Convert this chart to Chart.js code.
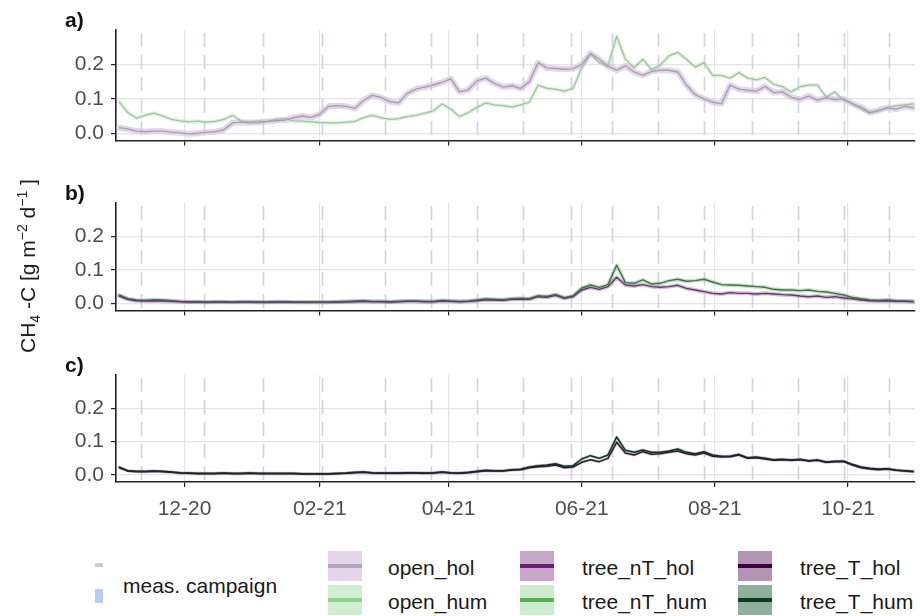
<!DOCTYPE html>
<html>
<head>
<meta charset="utf-8">
<script src="https://cdn.jsdelivr.net/npm/chart.js@4.4.1/dist/chart.umd.min.js"></script>
<style>
  html, body { margin: 0; padding: 0; background: #ffffff; }
  body { width: 920px; height: 616px; overflow: hidden; position: relative;
         font-family: "Liberation Sans", Arial, Helvetica, sans-serif; }
  canvas { position: absolute; left: 0; }
  #ytitle { position: absolute; left: 28px; top: 266px; transform: translate(-50%, -50%) rotate(-90deg);
            white-space: nowrap; font-size: 21px; color: #1a1a1a; }
  #ytitle sub, #ytitle sup { font-size: 14px; line-height: 0; }
  .lg-text { position: absolute; font-size: 21px; color: #1a1a1a; line-height: 1;
             transform: translateY(-50%); white-space: nowrap; }
  .lg-key { position: absolute; width: 34px; height: 30px; }
  .lg-key i { position: absolute; left: 0; right: 0; top: 13px; height: 4px; }
  .lg-mark { position: absolute; width: 8px; }
</style>
</head>
<body>
<canvas id="panelA" width="920" height="160" style="top:0px"></canvas>
<canvas id="panelB" width="920" height="170" style="top:160px"></canvas>
<canvas id="panelC" width="920" height="200" style="top:330px"></canvas>
<div id="ytitle">CH<sub>4</sub> -C [g m<sup>&minus;2</sup> d<sup>&minus;1</sup> ]</div>
<div id="legend"></div>

<script>
// Daily CH4-C flux series, one value every STEP_DAYS days from START_DATE
const START_DATE = '2020-11-01';
const STEP_DAYS = 4;

// a) open plots
const open_hol = [0.016,0.012,0.006,0.004,0.006,0.006,0.003,0.001,-0.002,0.000,
  0.003,0.004,0.010,0.030,0.032,0.030,0.031,0.034,0.036,0.038,
  0.045,0.050,0.046,0.055,0.078,0.080,0.078,0.072,0.095,0.110,
  0.104,0.092,0.088,0.115,0.128,0.134,0.140,0.148,0.158,0.120,
  0.126,0.152,0.160,0.145,0.134,0.138,0.130,0.150,0.205,0.190,
  0.188,0.186,0.187,0.200,0.232,0.215,0.195,0.183,0.196,0.178,
  0.168,0.180,0.183,0.183,0.178,0.140,0.112,0.100,0.090,0.086,
  0.140,0.128,0.125,0.122,0.136,0.118,0.120,0.104,0.098,0.108,
  0.096,0.103,0.098,0.100,0.086,0.076,0.060,0.066,0.074,0.070,
  0.078,0.074];
const open_hum = [0.092,0.060,0.044,0.052,0.058,0.050,0.040,0.036,0.033,0.035,
  0.032,0.034,0.040,0.052,0.035,0.033,0.036,0.034,0.040,0.042,
  0.036,0.035,0.033,0.031,0.030,0.030,0.032,0.034,0.045,0.052,
  0.045,0.040,0.042,0.048,0.052,0.058,0.065,0.085,0.070,0.048,
  0.060,0.075,0.088,0.082,0.080,0.076,0.082,0.090,0.140,0.130,
  0.128,0.122,0.130,0.190,0.230,0.205,0.195,0.282,0.215,0.190,
  0.215,0.185,0.198,0.225,0.235,0.215,0.192,0.205,0.168,0.168,
  0.160,0.176,0.160,0.155,0.162,0.142,0.135,0.120,0.135,0.140,
  0.140,0.105,0.120,0.095,0.085,0.070,0.058,0.065,0.074,0.080,
  0.082,0.086];

// b) tree plots, not trenched
const tree_nT_hol = [0.022,0.012,0.008,0.007,0.008,0.007,0.006,0.005,0.004,0.004,
  0.003,0.004,0.004,0.003,0.004,0.004,0.003,0.003,0.004,0.004,
  0.003,0.003,0.003,0.003,0.003,0.004,0.004,0.005,0.006,0.005,
  0.005,0.004,0.005,0.006,0.006,0.005,0.005,0.007,0.006,0.005,
  0.006,0.008,0.011,0.010,0.009,0.012,0.013,0.012,0.020,0.018,
  0.024,0.015,0.020,0.040,0.048,0.042,0.050,0.078,0.055,0.052,
  0.056,0.050,0.048,0.050,0.054,0.045,0.040,0.035,0.030,0.028,
  0.032,0.030,0.030,0.028,0.030,0.028,0.026,0.025,0.022,0.020,
  0.022,0.018,0.020,0.016,0.014,0.010,0.008,0.007,0.008,0.006,
  0.006,0.005];
const tree_nT_hum = [0.025,0.014,0.010,0.009,0.011,0.010,0.008,0.006,0.005,0.005,
  0.004,0.005,0.005,0.004,0.005,0.005,0.004,0.004,0.005,0.005,
  0.004,0.004,0.004,0.004,0.004,0.005,0.006,0.007,0.008,0.006,
  0.006,0.005,0.006,0.007,0.007,0.006,0.006,0.009,0.007,0.006,
  0.007,0.010,0.013,0.012,0.011,0.014,0.015,0.014,0.023,0.021,
  0.027,0.017,0.022,0.046,0.055,0.048,0.056,0.114,0.062,0.060,
  0.070,0.058,0.060,0.068,0.072,0.066,0.068,0.072,0.064,0.056,
  0.055,0.054,0.052,0.050,0.048,0.042,0.040,0.040,0.038,0.040,
  0.036,0.034,0.030,0.025,0.018,0.014,0.010,0.009,0.010,0.008,
  0.007,0.006];

// c) tree plots, trenched
const tree_T_hol = [0.024,0.012,0.010,0.010,0.011,0.010,0.008,0.006,0.005,0.004,
  0.004,0.004,0.005,0.004,0.004,0.005,0.004,0.004,0.004,0.004,
  0.004,0.003,0.003,0.003,0.003,0.004,0.005,0.007,0.008,0.006,
  0.005,0.005,0.005,0.006,0.006,0.005,0.006,0.008,0.006,0.005,
  0.007,0.010,0.013,0.012,0.012,0.015,0.016,0.022,0.025,0.026,
  0.030,0.022,0.024,0.038,0.046,0.040,0.050,0.098,0.066,0.060,
  0.070,0.062,0.064,0.068,0.072,0.064,0.060,0.066,0.056,0.054,
  0.055,0.060,0.050,0.052,0.048,0.044,0.046,0.044,0.046,0.042,
  0.044,0.038,0.040,0.040,0.030,0.022,0.018,0.016,0.018,0.014,
  0.012,0.010];
const tree_T_hum = [0.022,0.013,0.011,0.011,0.012,0.011,0.009,0.007,0.006,0.005,
  0.005,0.005,0.006,0.005,0.005,0.006,0.005,0.005,0.005,0.005,
  0.005,0.004,0.004,0.004,0.004,0.005,0.006,0.008,0.009,0.007,
  0.006,0.006,0.006,0.007,0.007,0.006,0.007,0.009,0.007,0.006,
  0.008,0.011,0.014,0.013,0.013,0.016,0.017,0.024,0.028,0.030,
  0.034,0.026,0.028,0.048,0.058,0.050,0.060,0.114,0.074,0.068,
  0.075,0.068,0.068,0.072,0.078,0.068,0.064,0.070,0.060,0.056,
  0.056,0.062,0.052,0.054,0.050,0.046,0.047,0.045,0.047,0.043,
  0.045,0.039,0.041,0.042,0.032,0.024,0.020,0.018,0.019,0.015,
  0.013,0.011];

// Measurement campaign dates
const campaignDates = ['2020-11-11','2020-12-10','2021-01-06','2021-02-02','2021-03-03','2021-03-24',
  '2021-04-14','2021-05-05','2021-05-27','2021-06-15','2021-07-06','2021-07-27',
  '2021-08-18','2021-09-08','2021-09-29','2021-10-20'];

// Axis ticks
const tickDates  = ['2020-12-01','2021-02-01','2021-04-01','2021-06-01','2021-08-01','2021-10-01'];
const tickLabels = ['12-20','02-21','04-21','06-21','08-21','10-21'];
const yTicks = [0, 0.1, 0.2];

const FONT = '"Liberation Sans", Arial, Helvetica, sans-serif';
const FONT_SIZE = 21;
const DAY = 86400000;
const t0 = Date.parse(START_DATE + 'T00:00:00Z');
const dayOf = s => Math.round((Date.parse(s + 'T00:00:00Z') - t0) / DAY);
const tickDays = tickDates.map(dayOf);
const campaignDays = campaignDates.map(dayOf);
const X_MIN = -1.4, X_MAX = 364.7;
const Y_MIN = -0.021, Y_MAX = 0.30;

const toPoints = vals => vals.map((v, i) => ({ x: i * STEP_DAYS, y: v }));

// Dashed vertical lines marking the measurement campaigns
const campaignPlugin = {
  id: 'campaigns',
  beforeDatasetsDraw(chart) {
    const { ctx, chartArea: a, scales: { x } } = chart;
    ctx.save();
    ctx.beginPath();
    ctx.rect(a.left, a.top, a.right - a.left, a.bottom - a.top);
    ctx.clip();
    ctx.strokeStyle = 'rgba(200,204,220,0.85)';
    ctx.lineWidth = 1.6;
    ctx.setLineDash([14, 8]);
    campaignDays.forEach(d => {
      const px = Math.round(x.getPixelForValue(d)) + 0.5;
      ctx.beginPath();
      ctx.moveTo(px, a.top + 3);
      ctx.lineTo(px, a.bottom);
      ctx.stroke();
    });
    ctx.restore();
  }
};

// Panel letter above the plot area
const panelLabelPlugin = {
  id: 'panelLabel',
  afterDraw(chart, args, opts) {
    const { ctx, chartArea: a } = chart;
    ctx.save();
    ctx.font = 'bold ' + FONT_SIZE + 'px ' + FONT;
    ctx.fillStyle = '#111';
    ctx.textBaseline = 'alphabetic';
    ctx.textAlign = 'left';
    ctx.fillText(opts.text, 65, a.top - 3);
    ctx.restore();
  }
};

function makePanel(id, label, series, padTop, padBottom, xHeight, showX) {
  const datasets = [];
  series.forEach((s, k) => {
    datasets.push({ data: toPoints(s.values), borderColor: s.line, borderWidth: s.lineWidth,
                    order: 1 + k, borderJoinStyle: 'round' });
    datasets.push({ data: toPoints(s.values), borderColor: s.band, borderWidth: s.bandWidth,
                    order: 10 + k, borderJoinStyle: 'round', borderCapStyle: 'round' });
  });
  return new Chart(document.getElementById(id), {
    type: 'line',
    data: { datasets },
    options: {
      responsive: false, animation: false, devicePixelRatio: 1,
      layout: { padding: { left: 66, right: 5, top: padTop, bottom: padBottom } },
      plugins: { legend: { display: false }, tooltip: { enabled: false },
                 panelLabel: { text: label } },
      elements: { point: { radius: 0 }, line: { tension: 0, fill: false } },
      scales: {
        x: {
          type: 'linear', min: X_MIN, max: X_MAX,
          afterBuildTicks: s => { s.ticks = tickDays.map(v => ({ value: v })); },
          afterFit: s => { s.height = xHeight; },
          ticks: { display: showX, autoSkip: false, maxRotation: 0, padding: 10, color: '#4d4d4d',
                   font: { size: FONT_SIZE, family: FONT },
                   callback: (v, i) => tickLabels[i] },
          grid: { color: '#e4e4e4', lineWidth: 1.2, tickColor: '#222', tickLength: 5 },
          border: { display: true, color: '#222', width: 1.6 }
        },
        y: {
          min: Y_MIN, max: Y_MAX,
          afterBuildTicks: s => { s.ticks = yTicks.map(v => ({ value: v })); },
          afterFit: s => { s.width = 50; },
          ticks: { padding: 7, color: '#4d4d4d', font: { size: FONT_SIZE, family: FONT },
                   callback: v => v.toFixed(1) },
          grid: { color: '#e4e4e4', lineWidth: 1.2, tickColor: '#222', tickLength: 5 },
          border: { display: true, color: '#222', width: 1.6 }
        }
      }
    },
    plugins: [campaignPlugin, panelLabelPlugin]
  });
}

// Series styles: line colour and ribbon colour for each plot type
const styles = {
  open_hol:    { key: '#e3d6e8', keyLine: '#b3a2b8', band: 'rgba(216,200,228,0.75)', line: '#a8a0ad', bandWidth: 6, lineWidth: 1.4 },
  open_hum:    { key: '#d0edd0', keyLine: '#8fd08f', band: 'rgba(196,232,196,0.55)', line: '#a6c0a6', bandWidth: 4, lineWidth: 1.3 },
  tree_nT_hol: { key: '#c7a6cb', keyLine: '#6b1d74', band: 'rgba(160,90,170,0.40)',  line: '#5a4262', bandWidth: 4, lineWidth: 1.4 },
  tree_nT_hum: { key: '#cdeccd', keyLine: '#57b157', band: 'rgba(110,190,110,0.40)', line: '#4b6b51', bandWidth: 4, lineWidth: 1.4 },
  tree_T_hol:  { key: '#b395b3', keyLine: '#3c0042', band: 'rgba(120,80,120,0.30)',  line: '#2b1a30', bandWidth: 3, lineWidth: 1.5 },
  tree_T_hum:  { key: '#8fae9b', keyLine: '#0d3b22', band: 'rgba(70,110,90,0.30)',   line: '#16301f', bandWidth: 3, lineWidth: 1.5 }
};
const withStyle = (name, values) => Object.assign({ values }, styles[name]);

makePanel('panelA', 'a)', [withStyle('open_hol', open_hol), withStyle('open_hum', open_hum)], 30, 7, 6, false);
makePanel('panelB', 'b)', [withStyle('tree_nT_hol', tree_nT_hol), withStyle('tree_nT_hum', tree_nT_hum)], 43, 6, 6, false);
makePanel('panelC', 'c)', [withStyle('tree_T_hol', tree_T_hol), withStyle('tree_T_hum', tree_T_hum)], 45, 10, 38, true);

// Legend
const legend = document.getElementById('legend');
const add = (cls, css, html) => {
  const el = document.createElement('div');
  el.className = cls;
  Object.assign(el.style, css);
  if (html) el.innerHTML = html;
  legend.appendChild(el);
  return el;
};
add('lg-mark', { left: '95px', top: '563px', height: '4px', background: '#c9ccd6' });
add('lg-mark', { left: '95px', top: '589px', height: '14px', background: '#b9cdf0' });
add('lg-text', { left: '123px', top: '585px' }).textContent = 'meas. campaign';

const legendCols = [
  { x: 328, tx: 388, names: ['open_hol', 'open_hum'] },
  { x: 520, tx: 582, names: ['tree_nT_hol', 'tree_nT_hum'] },
  { x: 738, tx: 800, names: ['tree_T_hol', 'tree_T_hum'] }
];
const rowKeyTop = [551, 585];
const rowTextY = [567, 601];
legendCols.forEach(col => {
  col.names.forEach((n, r) => {
    const key = add('lg-key', { left: col.x + 'px', top: rowKeyTop[r] + 'px', background: styles[n].key });
    const bar = document.createElement('i');
    bar.style.background = styles[n].keyLine;
    key.appendChild(bar);
    add('lg-text', { left: col.tx + 'px', top: rowTextY[r] + 'px' }).textContent = n;
  });
});
</script>
</body>
</html>
